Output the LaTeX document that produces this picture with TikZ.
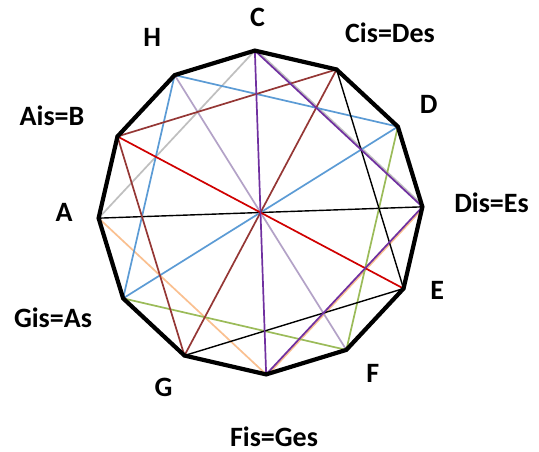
\documentclass[tikz,border=0pt]{standalone}
\usepackage{fontspec}
\setmainfont{Carlito}
\definecolor{cpurple}{HTML}{7030A0}
\definecolor{clavender}{HTML}{B3A2C7}
\definecolor{cgray}{HTML}{BFBFBF}
\definecolor{corange}{HTML}{FAC090}
\definecolor{cred}{HTML}{D00000}
\definecolor{cbrown}{HTML}{953735}
\definecolor{cblue}{HTML}{5B9BD5}
\definecolor{cgreen}{HTML}{9BBB59}
\begin{document}
\begin{tikzpicture}[x=1pt,y=-1pt,
  chord/.style={line width=1.7pt},
  thinblack/.style={line width=1.4pt, black},
  rim/.style={line width=4.2pt, line join=miter, black},
  lbl/.style={font=\bfseries\fontsize{28}{30}\selectfont, anchor=base, inner sep=0pt}]
\useasboundingbox[fill=white] (0,0) rectangle (539,452);
% circle of twelve pitch classes
\coordinate (O) at (260.5,212.5);
\foreach \n [count=\k from 0] in {c,cis,d,dis,e,f,fis,g,gis,a,ais,h}
  \path (O) ++({30*\k-92}:162) coordinate (\n);

% companion strokes running beside the purple edges
\draw[chord, cgray]   ([shift={(1,-1)}]c) -- ([shift={(1,-1)}]dis);
\draw[chord, corange] ([shift={(1,1)}]dis) -- ([shift={(1,1)}]fis);

% A - C - Dis - Fis
\draw[chord, cgray]   (a) -- (c);
\draw[chord, corange] (a) -- (fis);
\draw[thinblack] (a) -- (dis);

% H - D - F - Gis
\draw[chord, cblue]  (h) -- (d);
\draw[chord, cblue]  (h) -- (gis);
\draw[chord, cblue]  (gis) -- (d);
\draw[chord, cgreen] (d) -- (f);
\draw[chord, cgreen] (f) -- (gis);
\draw[chord, clavender] (h) -- (f);

% Cis - E - G - Ais
\draw[chord, cbrown] (ais) -- (cis);
\draw[chord, cbrown] (ais) -- (g);
\draw[chord, cbrown] (cis) -- (g);
\draw[thinblack] (cis) -- (e);
\draw[thinblack] (e) -- (g);
\draw[chord, cred] (ais) -- (e);

% C - Dis - Fis triangle
\draw[chord, cpurple] (c) -- (fis);
\draw[chord, cpurple] (c) -- (dis);
\draw[chord, cpurple] (dis) -- (fis);

% outline
\draw[rim] (c) -- (cis) -- (d) -- (dis) -- (e) -- (f) -- (fis) -- (g) -- (gis) -- (a) -- (ais) -- (h) -- cycle;

% labels
\node[lbl] (lc)   at (257.5,27)  {C};
\node[lbl] (lcis) at (390,43)    {Cis=Des};
\node[lbl] (ld)   at (428.6,113.5) {D};
\node[lbl] (ldis) at (491.5,212) {Dis=Es};
\node[lbl] (le)   at (437.2,299.6) {E};
\node[lbl] (lf)   at (372.8,382.7) {F};
\node[lbl] (lfis) at (274,446.5) {Fis=Ges};
\node[lbl] (lg)   at (163.5,396) {G};
\node[lbl] (lgis) at (53,327)    {Gis=As};
\node[lbl] (la)   at (64,221.5)  {A};
\node[lbl] (lais) at (52,125)    {Ais=B};
\node[lbl] (lh)   at (152.3,46.9) {H};
\end{tikzpicture}
\end{document}
